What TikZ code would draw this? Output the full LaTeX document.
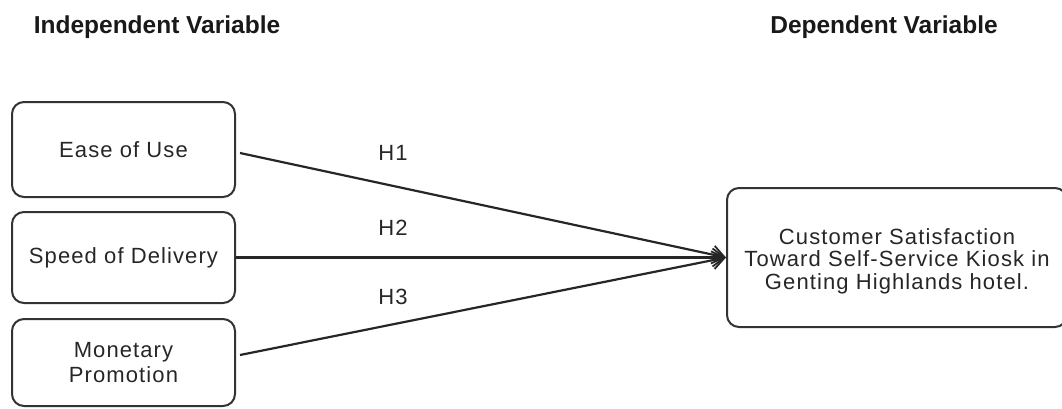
\documentclass[tikz,border=0pt]{standalone}
\usepackage{fontspec}
\setmainfont{Liberation Sans}
\newfontfamily\boxfont[LetterSpace=5]{Liberation Sans}
\usetikzlibrary{arrows.meta}
\tikzset{
  varbox/.style={draw=black!80, line width=2pt, rounded corners=12pt, align=center,
    font=\boxfont\fontsize{22}{25}\selectfont, text=black!85, inner sep=0pt},
  boxtext/.style={align=center, font=\boxfont\fontsize{22}{22.5}\selectfont, text=black!85, inner sep=0pt},
  title/.style={font=\bfseries\fontsize{24.5}{28}\selectfont, text=black!90},
  hlabel/.style={font=\boxfont\fontsize{22}{24}\selectfont, text=black!85},
  link/.style={draw=black!85, line width=2.2pt, -{Straight Barb[length=12pt,width=18pt,line width=1.8pt]}}
}
\begin{document}
\begin{tikzpicture}[x=1pt,y=-1pt]
\useasboundingbox (0,0) rectangle (1062,408);
\begin{scope}
\clip (0,0) rectangle (1062,408);
\node[title] (ti) at (157,27) {Independent Variable};
\node[title] (td) at (884,27) {Dependent Variable};
\node[varbox, minimum width=223pt, minimum height=95pt] (a) at (123.5,149.5) {Ease of Use};
\node[varbox, minimum width=223pt, minimum height=91pt] (b) at (123.5,257.5) {Speed of Delivery};
\node[varbox, minimum width=223pt, minimum height=87pt] (c) at (123.5,362.5) {Monetary\\Promotion};
\node[varbox, minimum width=340pt, minimum height=139pt] (d) at (897,257.5) {};
\node[boxtext] (dt) at (897,261) {Customer Satisfaction\\Toward Self-Service Kiosk in\\Genting Highlands hotel.};
\coordinate (a1) at (240,153);
\coordinate (c1) at (240,355);
\draw[link] (a1) -- (d.west);
\draw[link] (b.east) -- (d.west);
\draw[link] (c1) -- (d.west);
\node[hlabel] (h1) at (393,153) {H1};
\node[hlabel] (h2) at (393,228) {H2};
\node[hlabel] (h3) at (393,297) {H3};
\end{scope}
\end{tikzpicture}
\end{document}
